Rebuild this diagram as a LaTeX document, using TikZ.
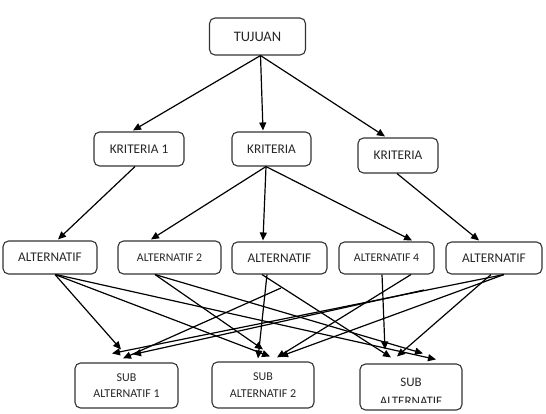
\documentclass[tikz,border=0pt]{standalone}
\usepackage{fontspec}
\setmainfont{Carlito}
\usetikzlibrary{arrows.meta}
\begin{document}
\begin{tikzpicture}[x=1pt,y=-1pt,
  box/.style={draw=black!80, line width=1.1pt, rounded corners=5.5pt, inner sep=0pt, text=black!85, align=center},
  big/.style={font=\fontsize{13.3}{16}\selectfont},
  small/.style={font=\fontsize{11.8}{16}\selectfont},
  conn/.style={line width=1.2pt, -{Triangle[length=8pt,width=7pt]}},
]
\useasboundingbox (0,0) rectangle (546,414);
% boxes
\node[box, minimum width=96pt, minimum height=37pt, font=\fontsize{14.5}{17}\selectfont] (tuj) at (257.5,36.5) {TUJUAN};
\node[box, big, minimum width=90pt, minimum height=34pt] (k1) at (139,149) {KRITERIA 1};
\node[box, big, minimum width=79pt, minimum height=34pt] (k2) at (271.5,149) {KRITERIA};
\node[box, big, minimum width=80pt, minimum height=35pt] (k3) at (398,155.5) {KRITERIA};
\node[box, big, minimum width=94pt, minimum height=33pt] (a1) at (50,257.5) {ALTERNATIF};
\node[box, small, minimum width=103pt, minimum height=33pt] (a2) at (169.5,257.5) {ALTERNATIF 2};
\node[box, big, minimum width=95pt, minimum height=32pt] (a3) at (279.5,258) {ALTERNATIF};
\node[box, small, minimum width=95pt, minimum height=32pt] (a4) at (386.5,258) {ALTERNATIF 4};
\node[box, big, minimum width=96pt, minimum height=32pt] (a5) at (494,258) {ALTERNATIF};
\node[box, minimum width=103pt, minimum height=45pt, font=\fontsize{12}{16}\selectfont] (s1) at (126.5,385.5) {SUB\\ALTERNATIF 1};
\node[box, minimum width=102pt, minimum height=46pt, font=\fontsize{12}{17}\selectfont] (s2) at (263,385) {SUB\\ALTERNATIF 2};
\node[box, minimum width=102pt, minimum height=46pt] (s3) at (411,387) {};
\begin{scope}
  \clip ([yshift=8pt]s3.south west) rectangle (s3.north east);
  \node[text=black!85, font=\fontsize{13}{16}\selectfont, inner sep=0pt] (s3a) at (411,382) {SUB};
  \node[text=black!85, font=\fontsize{13}{16}\selectfont, inner sep=0pt, anchor=base] (s3b) at (411,405.5) {ALTERNATIF};
\end{scope}
\coordinate (c1) at (281,288);
\coordinate (c2) at (424,290);
% top layer
\draw[conn] ([xshift=3pt]tuj.south) -- ([xshift=-6pt,yshift=1pt]k1.north);
\draw[conn] ([xshift=3pt]tuj.south) -- ([xshift=-8.5pt,yshift=1pt]k2.north);
\draw[conn] ([xshift=3pt]tuj.south) -- ([xshift=-13pt,yshift=1pt]k3.north);
\draw[conn] ([xshift=-4pt]k1.south) -- ([xshift=8pt,yshift=1pt]a1.north);
\draw[conn] ([xshift=-5.5pt]k2.south) -- ([xshift=-18.5pt,yshift=1pt]a2.north);
\draw[conn] ([xshift=-5.5pt]k2.south) -- ([xshift=-16.5pt,yshift=1pt]a3.north);
\draw[conn] ([xshift=-5.5pt]k2.south) -- ([xshift=25.5pt,yshift=1pt]a4.north);
\draw[conn] ([xshift=-1pt]k3.south) -- ([xshift=-15pt,yshift=1pt]a5.north);
% bottom layer
\draw[conn] ([xshift=5pt]a1.south) -- ([xshift=-5.5pt,yshift=13pt]s1.north);
\draw[conn] ([xshift=5pt]a1.south) -- ([xshift=7pt,yshift=5pt]s2.north);
\draw[conn] ([xshift=6pt]a1.south) -- ([xshift=25pt,yshift=4pt]s3.north);
\draw[conn] ([xshift=-14.5pt]a2.south) -- ([xshift=0pt,yshift=12pt]s2.north);
\draw[conn] ([xshift=-14.5pt]a2.south) -- ([xshift=12pt,yshift=10pt]s3.north);
\draw[conn] ([xshift=-12.5pt]a3.south) -- ([xshift=-5pt,yshift=3pt]s2.north);
\draw[conn] ([xshift=-17.5pt]a3.south) -- ([xshift=-20pt,yshift=6pt]s3.north);
\draw[conn] (c1) -- ([xshift=-3.5pt,yshift=4pt]s1.north);
\draw[conn] ([xshift=-4.5pt]a4.south) -- ([xshift=-26pt,yshift=14pt]s3.north);
\draw[conn] ([xshift=24.5pt]a4.south) -- ([xshift=14pt,yshift=4pt]s2.north);
\draw[conn] ([xshift=10pt]a5.south) -- ([xshift=-14.5pt,yshift=9pt]s1.north);
\draw[conn] (c2) -- ([xshift=6.5pt,yshift=8pt]s1.north);
\draw[conn] ([xshift=10pt]a5.south) -- ([xshift=17pt,yshift=5pt]s2.north);
\draw[conn] ([xshift=-3pt]a5.south) -- ([xshift=-14pt,yshift=7pt]s3.north);
\end{tikzpicture}
\end{document}
